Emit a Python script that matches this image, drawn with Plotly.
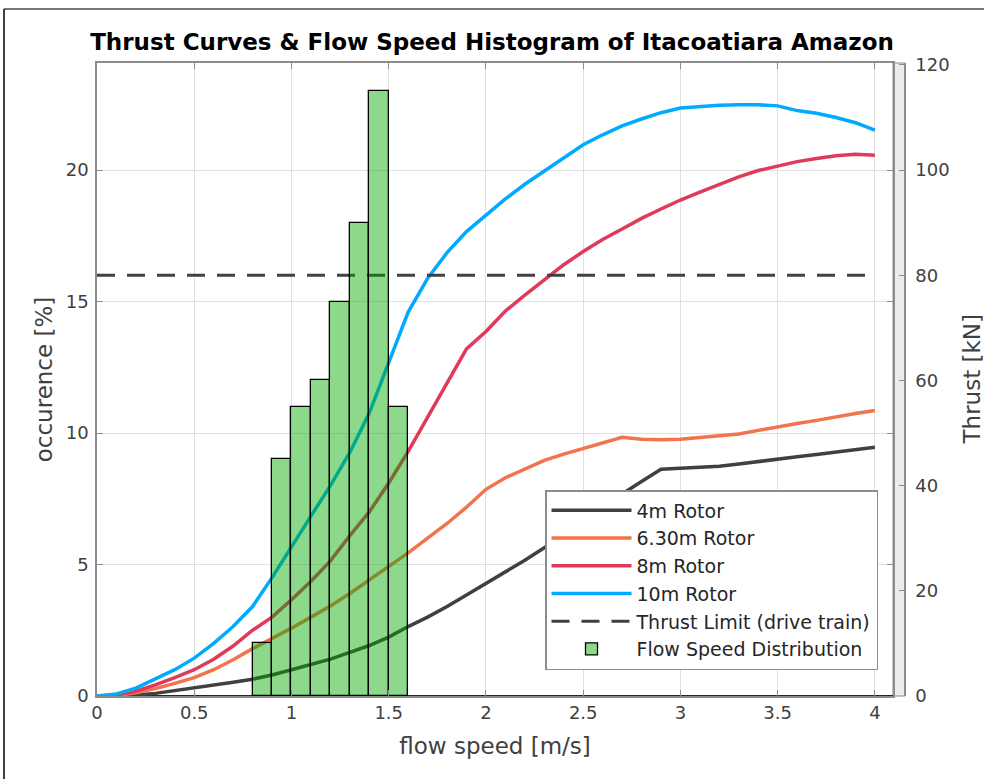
import plotly.graph_objects as go

# flow speed grid [m/s]
speed = [0.0, 0.1, 0.2, 0.3, 0.4, 0.5, 0.6, 0.7, 0.8, 0.9,
         1.0, 1.1, 1.2, 1.3, 1.4, 1.5, 1.6, 1.7, 1.8, 1.9,
         2.0, 2.1, 2.2, 2.3, 2.4, 2.5, 2.6, 2.7, 2.8, 2.9,
         3.0, 3.1, 3.2, 3.3, 3.4, 3.5, 3.6, 3.7, 3.8, 3.9, 4.0]

# thrust [kN]
thrust_4m = [0, 0.05, 0.2, 0.5, 1.0, 1.5, 2.0, 2.6, 3.2, 4.0,
             5.0, 6.0, 7.0, 8.3, 9.6, 11.2, 13.2, 15.0, 17.0, 19.2,
             21.4, 23.5, 25.8, 28.2, 30.8, 33.3, 35.9, 38.4, 40.8, 43.1,
             43.3, 43.5, 43.7, 44.1, 44.6, 45.1, 45.5, 45.9, 46.4, 46.9, 47.3]
thrust_63m = [0, 0.1, 0.6, 1.4, 2.4, 3.5, 5.0, 6.9, 9.0, 10.9,
              12.9, 15.0, 17.1, 19.5, 22.0, 24.5, 27.2, 30.0, 32.8, 35.9,
              39.3, 41.5, 43.2, 44.8, 46.0, 47.1, 48.1, 49.2, 48.8, 48.7,
              48.8, 49.1, 49.4, 49.8, 50.5, 51.2, 51.8, 52.4, 53.1, 53.7, 54.3]
thrust_8m = [0, 0.2, 0.9, 2.1, 3.5, 5.0, 7.0, 9.5, 12.5, 15.0,
             18.3, 21.8, 25.7, 30.5, 35.0, 40.5, 46.5, 53.0, 59.7, 66.0,
             69.3, 73.2, 76.2, 79.0, 82.0, 84.5, 86.8, 88.8, 90.8, 92.6,
             94.3, 95.8, 97.3, 98.7, 99.9, 100.8, 101.6, 102.2, 102.7, 103.0, 102.8]
thrust_10m = [0, 0.4, 1.5, 3.2, 5.0, 7.2, 10.0, 13.2, 17.0, 22.5,
              28.2, 34.2, 40.0, 46.3, 53.8, 63.5, 73.0, 79.4, 84.3, 88.3,
              91.5, 94.5, 97.3, 99.8, 102.3, 104.8, 106.7, 108.4, 109.7, 110.9,
              111.8, 112.1, 112.3, 112.4, 112.4, 112.2, 111.3, 110.8, 110.0, 109.0, 107.6]
thrust_limit = 80

# histogram of flow speed, bins of 0.1 m/s
bin_edges = [0.8, 0.9, 1.0, 1.1, 1.2, 1.3, 1.4, 1.5, 1.6]
occurrence = [2, 9, 11, 12, 15, 18, 23, 11]

bin_centers = [(a + b) / 2 for a, b in zip(bin_edges[:-1], bin_edges[1:])]

FONT = "DejaVu Sans, Liberation Sans, Arial, sans-serif"
AX = "#8c8c8c"
TXT = "#404040"

fig = go.Figure()

curves = [("4m Rotor", thrust_4m, "#404040"),
          ("6.30m Rotor", thrust_63m, "#f2734c"),
          ("8m Rotor", thrust_8m, "#e03a5a"),
          ("10m Rotor", thrust_10m, "#00aaff")]
for name, vals, col in curves:
    fig.add_trace(go.Scatter(x=speed, y=vals, mode="lines", name=name,
                             line=dict(color=col, width=3.5), yaxis="y"))

fig.add_trace(go.Scatter(x=[speed[0], speed[-1]], y=[thrust_limit, thrust_limit], mode="lines",
                         name="Thrust Limit (drive train)",
                         line=dict(color="#404040", width=3, dash="18px,12px"), yaxis="y"))

fig.add_trace(go.Bar(x=bin_centers, y=occurrence, width=0.1, name="Flow Speed Distribution",
                     marker=dict(color="rgba(0,170,0,0.45)", line=dict(color="black", width=1.3)),
                     yaxis="y2"))

px0, px1, pr = 97, 893, 905
span = pr - px0

fig.update_layout(
    width=984, height=779,
    margin=dict(l=px0, r=984 - pr, t=63, b=83),
    paper_bgcolor="white", plot_bgcolor="white",
    font=dict(family=FONT, color=TXT),
    title=dict(text="<b>Thrust Curves & Flow Speed Histogram of Itacoatiara Amazon</b>",
               x=(492 - px0) / span, xref="paper", xanchor="center",
               y=1 - 42 / 779, yanchor="middle", yref="container",
               font=dict(size=23, color="black", family=FONT)),
    xaxis=dict(domain=[0, (px1 - px0) / span], range=[0, 4.093], dtick=0.5, tick0=0,
               showgrid=True, gridcolor="#e0e0e0", gridwidth=1,
               showline=True, linecolor=AX, linewidth=1.5, mirror="ticks",
               ticks="inside", ticklen=6, tickcolor=AX,
               tickfont=dict(size=18, color=TXT), zeroline=False, automargin=False,
               title=dict(text="flow speed [m/s]", font=dict(size=23, color=TXT), standoff=16)),
    yaxis=dict(range=[0, 120.35], tickvals=[0, 20, 40, 60, 80, 100, 120],
               side="right", anchor="free", position=1.0,
               showgrid=False, zeroline=False,
               showline=True, linecolor=AX, linewidth=1.5,
               ticks="inside", ticklen=5, tickcolor=AX, ticklabelstandoff=6,
               tickfont=dict(size=18, color=TXT), automargin=False),
    yaxis2=dict(range=[0, 24.07], tickvals=[0, 5, 10, 15, 20], overlaying="y", side="left",
                anchor="x", showgrid=True, gridcolor="#e0e0e0", gridwidth=1,
                zeroline=True, zerolinecolor="#262626", zerolinewidth=1.5,
                showline=True, linecolor=AX, linewidth=1.5, mirror="ticks",
                ticks="inside", ticklen=6, tickcolor=AX, ticklabelstandoff=3,
                tickfont=dict(size=18, color=TXT), automargin=False,
                title=dict(text="occurence [%]", font=dict(size=23, color=TXT), standoff=7)),
    legend=dict(x=(878 - px0) / span, xanchor="right", y=(696 - 670) / 633, yanchor="bottom",
                bgcolor="white", bordercolor=AX, borderwidth=1.5,
                font=dict(size=19, color="#262626"), itemwidth=80,
                tracegroupgap=0),
    bargap=0,
    showlegend=True,
)

# right axis title, pushed close to the page edge
fig.add_annotation(text="Thrust [kN]", xref="paper", yref="paper",
                   x=(971 - px0) / span, y=0.5, xanchor="center", yanchor="middle",
                   textangle=-90, showarrow=False, font=dict(size=23, color=TXT))

# light band between the two right-hand axes, and the outer frame of the figure
fig.add_shape(type="rect", xref="paper", yref="paper", x0=(px1 - px0) / span, x1=1.0, y0=0, y1=1,
              fillcolor="#ececec", line=dict(color=AX, width=1), layer="below")
fig.add_shape(type="line", xref="paper", yref="paper", x0=(4 - px0) / span, x1=(984 - px0) / span,
              y0=(696 - 9) / 633, y1=(696 - 9) / 633, line=dict(color="#777777", width=2))
fig.add_shape(type="line", xref="paper", yref="paper", x0=(4 - px0) / span, x1=(4 - px0) / span,
              y0=(696 - 9) / 633, y1=(696 - 779) / 633, line=dict(color="black", width=1.5))

fig.write_html("out.html", config={"displayModeBar": False},
               post_script="document.body.style.margin='0';document.body.style.overflow='hidden';")
